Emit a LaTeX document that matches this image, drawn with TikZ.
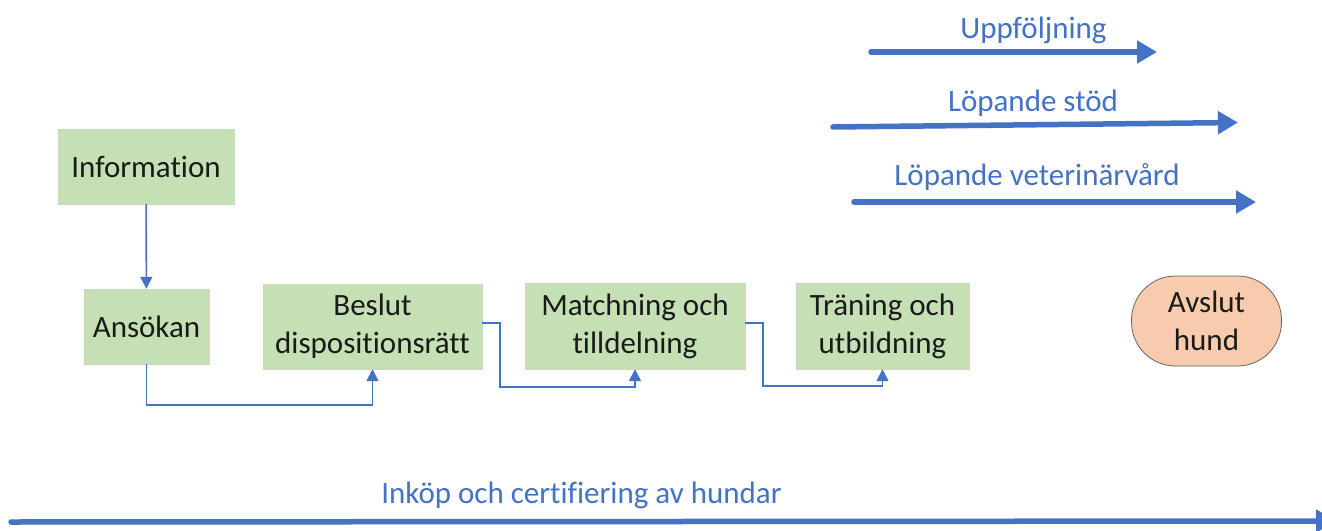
\documentclass[tikz,border=0pt]{standalone}
\usepackage{fontspec}
\setmainfont{Carlito}[Ligatures={NoCommon,NoRare}]
\usetikzlibrary{arrows.meta}
\definecolor{boxgreen}{HTML}{C5E0B4}
\definecolor{peach}{HTML}{F8CBAD}
\definecolor{obl}{HTML}{4472C4}
\definecolor{txt}{HTML}{1A1A1A}
\tikzset{
  box/.style={fill=boxgreen, draw=boxgreen!85!black!60, line width=0.4pt, inner sep=0pt, align=center, text=txt,
    font=\fontsize{31}{38}\selectfont},
  conn/.style={draw=obl, line width=1.6pt, -{Triangle[length=12pt,width=12pt]}},
  big/.style={draw=obl, line width=5.5pt, line cap=round, -{Triangle[length=20pt,width=22pt]}},
  lbl/.style={text=obl, anchor=base, inner sep=0pt, font=\fontsize{31}{38}\selectfont},
}
\begin{document}
\begin{tikzpicture}[x=1pt,y=-1pt]
\useasboundingbox (0,0) rectangle (1322,530);
\fill[white] (0,0) rectangle (1322,530);

\node[box, minimum width=176pt, minimum height=75pt] (info) at (146,166.5) {Information};
\node[box, minimum width=125pt, minimum height=75pt] (ans) at (146.5,326.5) {Ansökan};
\node[box, minimum width=219pt, minimum height=85pt] (besl) at (372.5,326.5) {Beslut\\dispositionsrätt};
\node[box, minimum width=220pt, minimum height=86pt] (match) at (635,326) {Matchning och\\tilldelning};
\node[box, minimum width=173pt, minimum height=86pt] (tran) at (882.5,326) {Träning och\\utbildning};
\node[fill=peach, draw=black!60, line width=0.8pt, rounded corners=44pt, minimum width=150pt, minimum height=90pt,
  inner sep=0pt, align=center, text=txt, font=\fontsize{31}{38}\selectfont] (avs) at (1206.5,321) {Avslut\\hund};

\draw[conn] (info) -- (ans);
\draw[conn] (ans.south) -- ++(0,41) -| (besl.south);
\draw[conn] ([yshift=3.5pt]besl.east) -- ++(18,0) -- ++(0,64) -| (match.south);
\draw[conn] ([yshift=3pt]match.east) -- ++(18,0) -- ++(0,63) -| (tran.south);

\coordinate (u1) at (871,52);
\coordinate (u2) at (1157,52);
\coordinate (s1) at (833,127);
\coordinate (s2) at (1238,122.5);
\coordinate (v1) at (854,202);
\coordinate (v2) at (1256,202);
\coordinate (i1) at (11,522);
\coordinate (i2) at (1336,521);

\draw[big] (u1) -- (u2);
\draw[big] (s1) -- (s2);
\draw[big] (v1) -- (v2);
\draw[big] (i1) -- (i2);

\node[lbl] (lu) at (1033.5,38) {Uppföljning};
\node[lbl] (ls) at (1033,111) {Löpande stöd};
\node[lbl] (lv) at (1037,185) {Löpande veterinärvård};
\node[lbl] (li) at (581.5,503) {Inköp och certifiering av hundar};
\end{tikzpicture}
\end{document}
